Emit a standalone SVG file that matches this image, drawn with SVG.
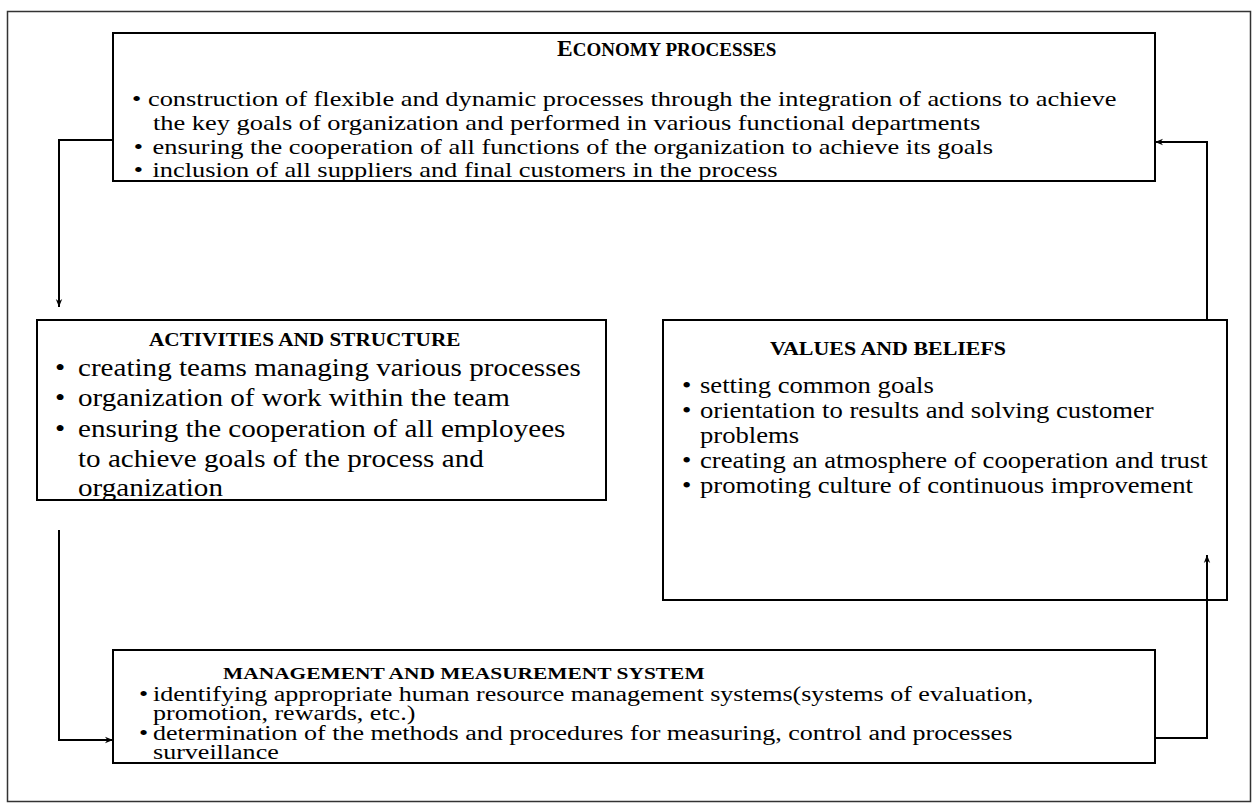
<svg xmlns="http://www.w3.org/2000/svg" width="1258" height="809" viewBox="0 0 1258 809">
<style>
.box{fill:#fff;stroke:#000;stroke-width:2}
.t{font-family:"Liberation Serif","Times New Roman",serif;fill:#000}
.h{font-family:"Liberation Serif","Times New Roman",serif;font-weight:bold;fill:#000}
.c{fill:none;stroke:#000;stroke-width:2}
</style>
<defs>
<marker id="ah" viewBox="0 0 10 10" refX="10" refY="5" markerWidth="8" markerHeight="8" markerUnits="userSpaceOnUse" orient="auto"><path d="M0,1 L10,5 L0,9 L3,5 z" fill="#000"/></marker>
</defs>
<rect x="0" y="0" width="1258" height="809" fill="#fff"/>
<rect x="7.5" y="11.5" width="1243" height="790" fill="none" stroke="#333" stroke-width="1.5"/>
<g id="economy">
<rect class="box" x="113" y="33" width="1042" height="148"/>
<text class="h" x="557" y="56" font-size="23.5">E<tspan font-size="19">CONOMY PROCESSES</tspan></text>
<text class="t" font-size="22" transform="translate(135,0) scale(1.2,1)">
<tspan x="-2.5" y="106">•</tspan><tspan x="10.8">construction of flexible and dynamic processes through the integration of actions to achieve</tspan>
<tspan x="15" y="130">the key goals of organization and performed in various functional departments</tspan>
<tspan x="-1" y="154">•</tspan><tspan x="14.6">ensuring the cooperation of all functions of the organization to achieve its goals</tspan>
<tspan x="-1" y="177">•</tspan><tspan x="14.6">inclusion of all suppliers and final customers in the process</tspan>
</text>
</g>
<g id="activities">
<rect class="box" x="37" y="320" width="569" height="180"/>
<text class="h" font-size="18" transform="translate(149,346) scale(1.18,1)">ACTIVITIES AND STRUCTURE</text>
<text class="t" font-size="26" transform="translate(52,0) scale(1.12,1)">
<tspan x="2.7" y="376">•</tspan><tspan x="23.2">creating teams managing various processes</tspan>
<tspan x="2.7" y="406">•</tspan><tspan x="23.2">organization of work within the team</tspan>
<tspan x="2.7" y="437">•</tspan><tspan x="23.2">ensuring the cooperation of all employees</tspan>
<tspan x="23.2" y="467">to achieve goals of the process and</tspan>
<tspan x="23.2" y="496">organization</tspan>
</text>
</g>
<g id="values">
<rect class="box" x="663" y="320" width="564" height="280"/>
<text class="h" font-size="18.6" transform="translate(770,355) scale(1.18,1)">VALUES AND BELIEFS</text>
<text class="t" font-size="22.6" transform="translate(678,0) scale(1.18,1)">
<tspan x="3.4" y="393">•</tspan><tspan x="18.6">setting common goals</tspan>
<tspan x="3.4" y="418">•</tspan><tspan x="18.6">orientation to results and solving customer</tspan>
<tspan x="18.6" y="443">problems</tspan>
<tspan x="3.4" y="468">•</tspan><tspan x="18.6">creating an atmosphere of cooperation and trust</tspan>
<tspan x="3.4" y="493">•</tspan><tspan x="18.6">promoting culture of continuous improvement</tspan>
</text>
</g>
<g id="management">
<rect class="box" x="113" y="650" width="1042" height="113"/>
<text class="h" font-size="17" transform="translate(223,679) scale(1.26,1)">MANAGEMENT AND MEASUREMENT SYSTEM</text>
<text class="t" font-size="20.5" transform="translate(136,0) scale(1.27,1)">
<tspan x="2.4" y="701">•</tspan><tspan x="13.4">identifying appropriate human resource management systems(systems of evaluation,</tspan>
<tspan x="13.4" y="720">promotion, rewards, etc.)</tspan>
<tspan x="2.4" y="740">•</tspan><tspan x="13.4">determination of the methods and procedures for measuring, control and processes</tspan>
<tspan x="13.4" y="759">surveillance</tspan>
</text>
</g>
<g id="connectors">
<path class="c" d="M113,140 H59 V307" marker-end="url(#ah)"/>
<path class="c" d="M59,530 V740 H113" marker-end="url(#ah)"/>
<path class="c" d="M1155,738 H1207 V555" marker-end="url(#ah)"/>
<path class="c" d="M1207,320 V142 H1155" marker-end="url(#ah)"/>
</g>
</svg>
